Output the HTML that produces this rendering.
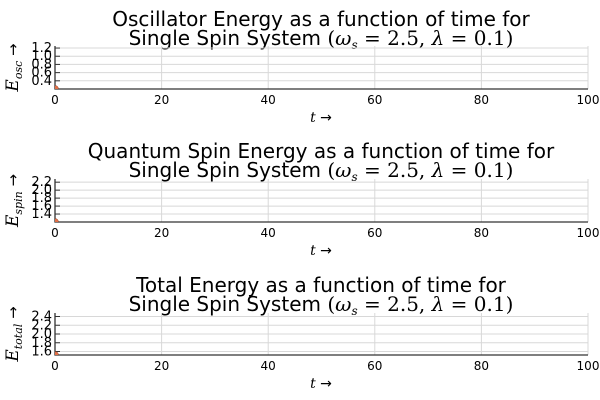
<!DOCTYPE html>
<html><head><meta charset="utf-8"><style>
body{margin:0;background:#fff}
svg{display:block;font-family:"DejaVu Sans","Liberation Sans",sans-serif}
.m{font-family:"DejaVu Serif","Liberation Serif",serif;font-style:italic}
.u{font-family:"DejaVu Serif","Liberation Serif",serif;font-style:normal}
</style></head><body>
<svg id="c" width="600" height="400" viewBox="0 0 600 400"></svg>
<script>
const xTicks = [0, 20, 40, 60, 80, 100];
const panelTitles = ["Oscillator Energy as a function of time for", "Quantum Spin Energy as a function of time for", "Total Energy as a function of time for"];
const panelSubs = ["osc", "spin", "total"];
const yTicks1 = [0.4, 0.6, 0.8, 1.0, 1.2];
const yTicks2 = [1.4, 1.6, 1.8, 2.0, 2.2];
const yTicks3 = [1.6, 1.8, 2.0, 2.2, 2.4];
const yRanges = [[0.2, 1.25], [1.2, 2.28], [1.52, 2.48]];
const times = [0];
const eOsc = [0.2];
const eSpin = [1.2];
const eTotal = [1.52];

const NS = "http://www.w3.org/2000/svg";
const svg = document.getElementById("c");
function mk(tag, attrs, parent) { const e = document.createElementNS(NS, tag); for (const k in attrs) e.setAttribute(k, attrs[k]); (parent || svg).appendChild(e); return e; }
const X0 = 55, X1 = 588;
const panels = [
  {top: 46, bot: 89, t1: 26, t2: 45, ticks: yTicks1, vals: eOsc},
  {top: 179, bot: 222, t1: 158, t2: 177, ticks: yTicks2, vals: eSpin},
  {top: 313, bot: 355, t1: 292, t2: 311, ticks: yTicks3, vals: eTotal}
];
panels.forEach((p, i) => {
  const g = mk("g", {});
  
  
  const [ymin, ymax] = yRanges[i];
  const sx = v => X0 + (v - 0) / (100 - 0) * (X1 - X0);
  const sy = v => p.bot - (v - ymin) / (ymax - ymin) * (p.bot - p.top);
  const t = mk("text", {x: 321, y: p.t1, "text-anchor": "middle", "font-size": 20, fill: "#000"}, g);
  t.textContent = panelTitles[i];
  
  
  const t2 = mk("text", {x: 321, y: p.t2, "text-anchor": "middle", "font-size": 20, fill: "#000"}, g);
  t2.innerHTML = 'Single Spin System <tspan class="u">(</tspan><tspan class="m">ω</tspan><tspan class="m" font-size="12" dy="4">s</tspan><tspan class="u" dy="-4"> = 2.5, </tspan><tspan class="m">λ</tspan><tspan class="u"> = 0.1)</tspan>';
  
  
  xTicks.forEach(v => {
    const l = mk("line", {x1: sx(v), x2: sx(v), y1: p.top, y2: p.bot, stroke: "#d8d8d8", "stroke-width": 1}, g);
    
    
    const tl = mk("text", {x: sx(v), y: p.bot + 15, "text-anchor": "middle", "font-size": 12, fill: "#000"}, g);
    tl.textContent = v;
    
    
  });
  p.ticks.forEach(v => {
    const y = sy(v);
    const l = mk("line", {x1: X0, x2: X1, y1: y, y2: y, stroke: "#d8d8d8", "stroke-width": 1}, g);
    
    
    mk("line", {x1: X0, x2: X0 + 5, y1: y, y2: y, stroke: "#333", "stroke-width": 1}, g);
    const tl = mk("text", {x: X0 - 3, y: y + 4, "text-anchor": "end", "font-size": 13, fill: "#000"}, g);
    tl.textContent = v.toFixed(1);
    
    
  });
  const ax = mk("path", {d: `M${X0} ${p.top} V${p.bot} H${X1}`, fill: "none", stroke: "#333", "stroke-width": 1.3}, g);
  
  
  const cid = "clip" + i;
  const cp = mk("clipPath", {id: cid}, g);
  mk("rect", {x: X0, y: p.top, width: X1 - X0, height: p.bot - p.top}, cp);
  times.forEach((tv, j) => {
    const c = mk("circle", {cx: sx(tv), cy: sy(p.vals[j]), r: 3.5, fill: "#e26f46", stroke: "#8a3a20", "stroke-width": 0.5, "clip-path": `url(#${cid})`}, g);
    
    
  });
  const xl = mk("text", {x: 321, y: p.bot + 33, "text-anchor": "middle", "font-size": 14, fill: "#000"}, g);
  xl.innerHTML = '<tspan class="m">t</tspan> →';
  
  
  const cy = (p.top + p.bot) / 2;
  const yl = mk("text", {x: 0, y: 0, "text-anchor": "middle", "font-size": 15, fill: "#000", transform: `translate(18 ${cy}) rotate(-90)`}, g);
  yl.innerHTML = '<tspan class="m" font-size="17">E</tspan><tspan class="m" font-size="11" dy="4">' + panelSubs[i] + '</tspan><tspan dy="-4"> →</tspan>';
  
  
});
</script>
</body></html>
